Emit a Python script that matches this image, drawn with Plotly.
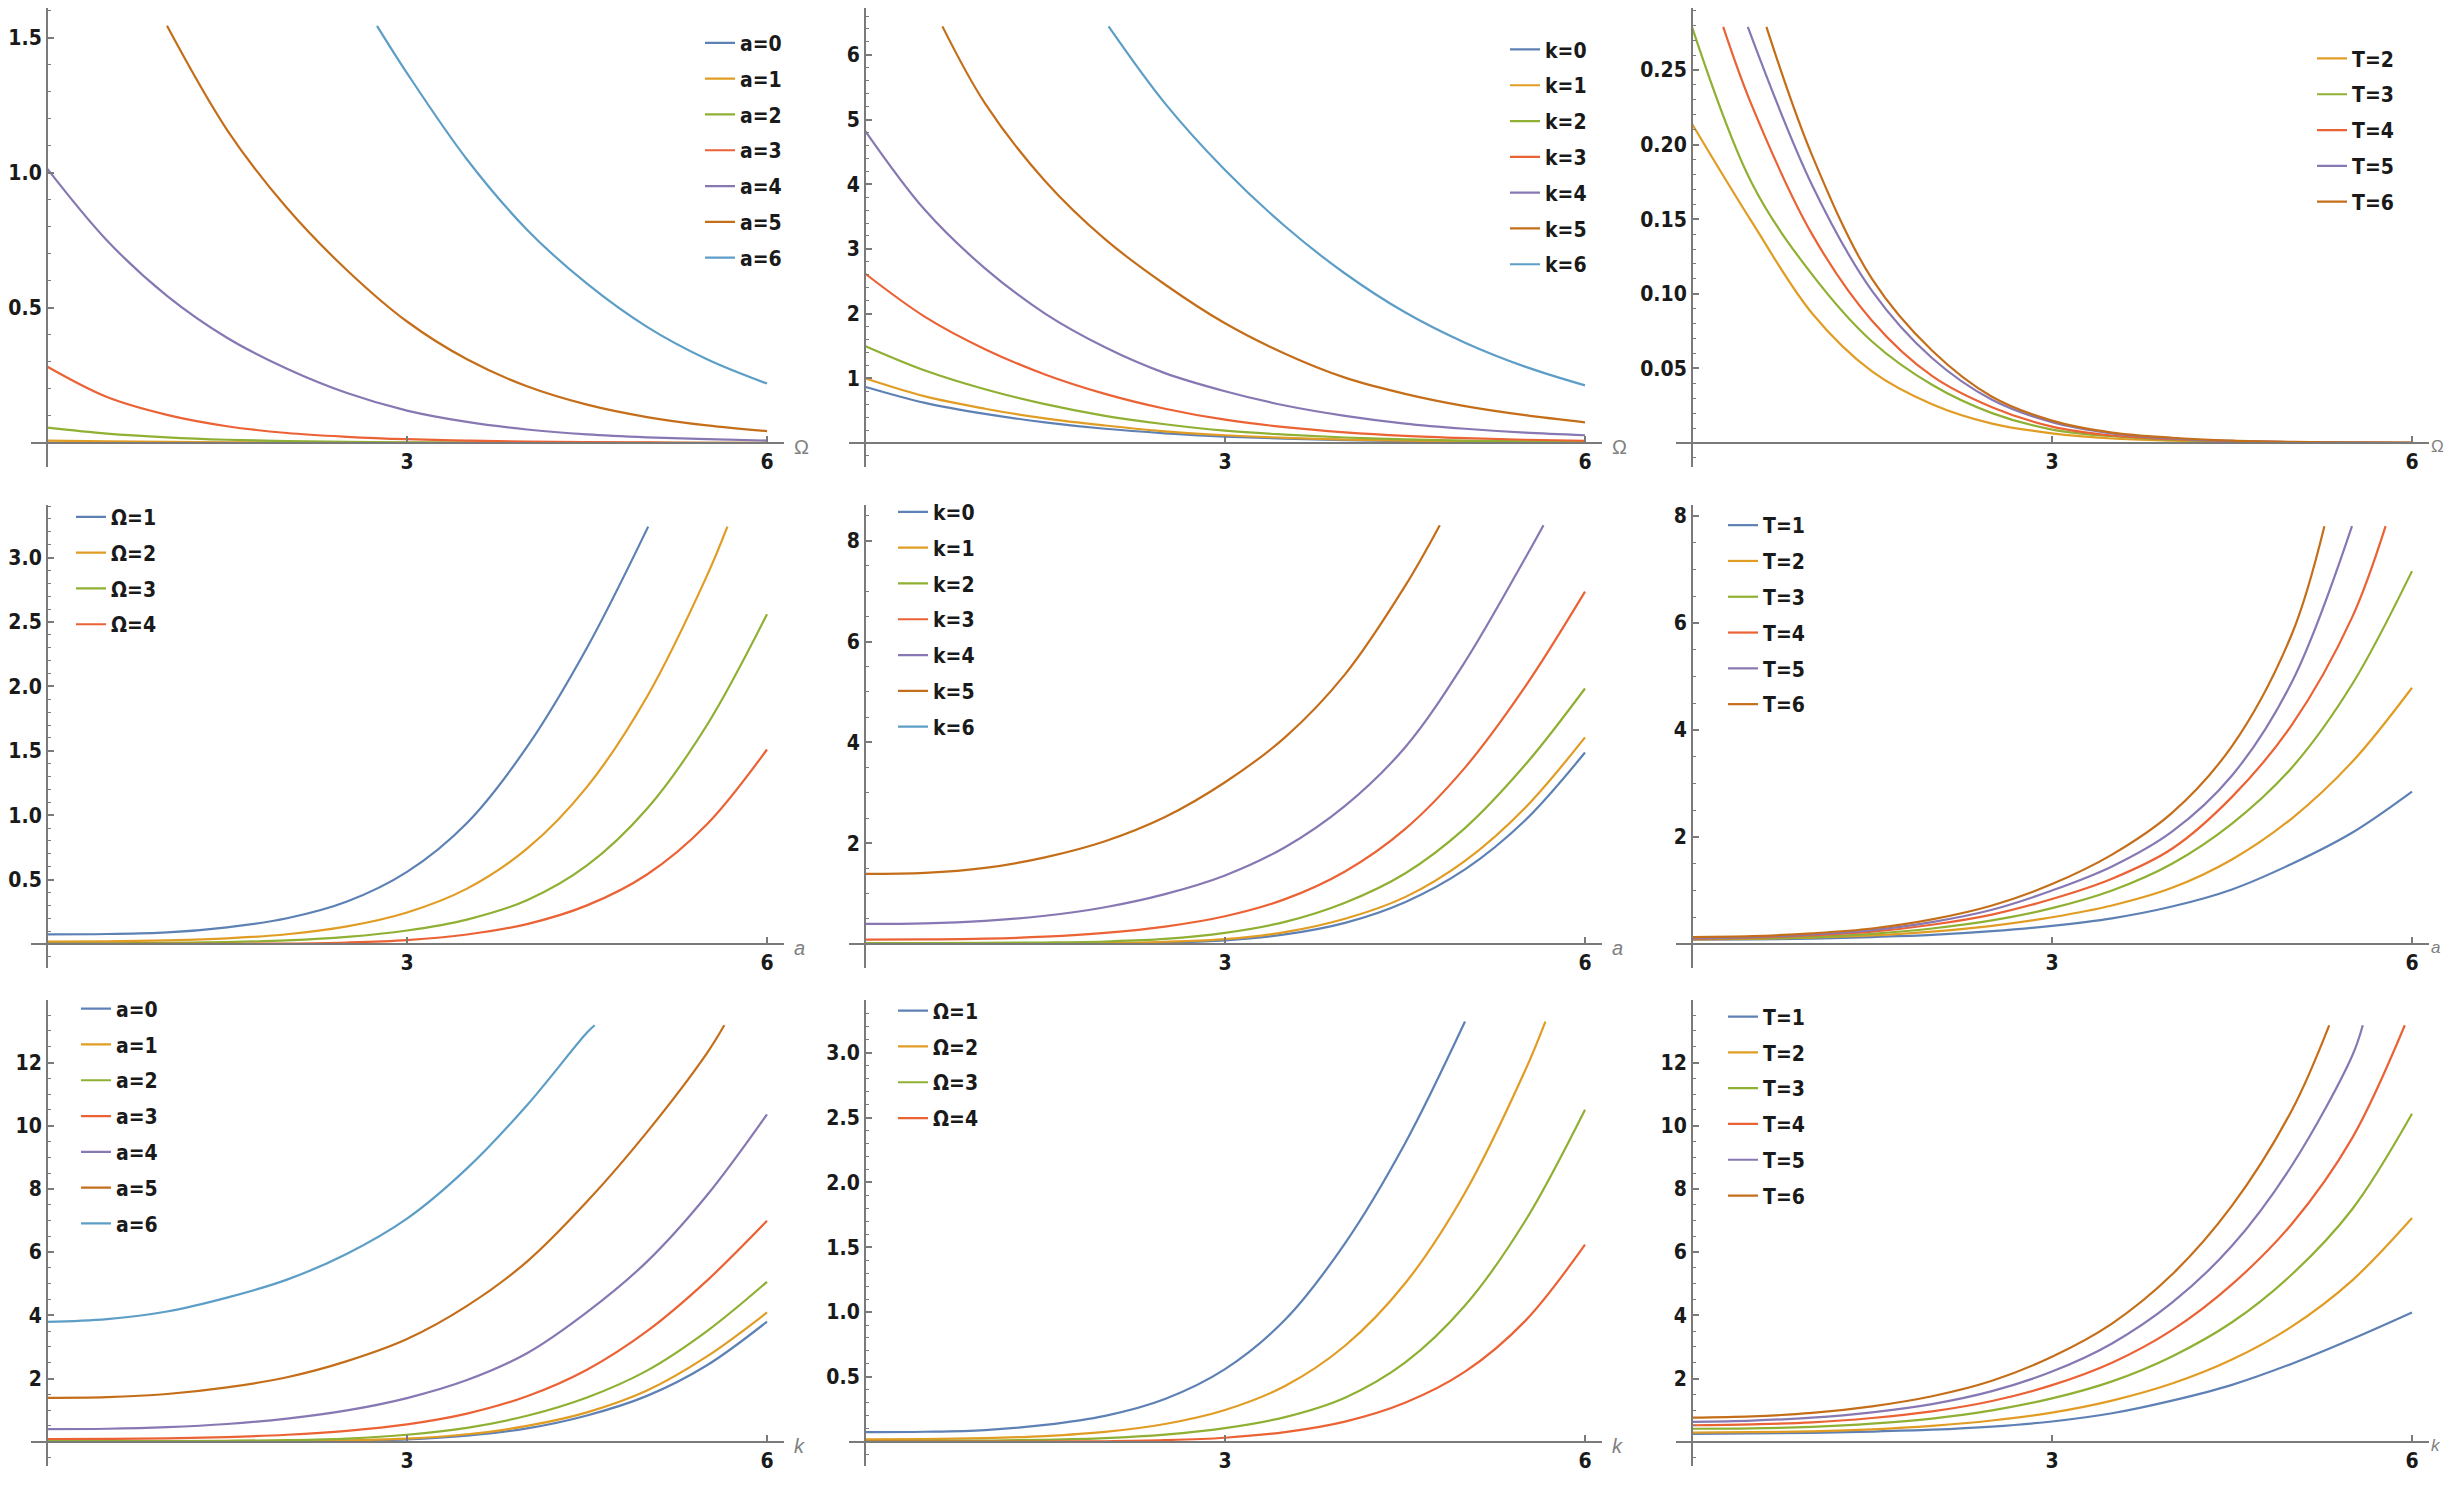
import plotly.graph_objects as go

# ---------------- data ----------------
X = [0, 0.5, 1, 1.5, 2, 2.5, 3, 3.5, 4, 4.5, 5, 5.5, 6]
COLORS = ["#5E81B5", "#E19C24", "#8FB032", "#EB6235", "#8778B3", "#C56E1A", "#5D9EC7"]

# Panel 1: vs Omega, a = 0..6
p1_labels = ["a=0", "a=1", "a=2", "a=3", "a=4", "a=5", "a=6"]
p1_a0 = [0.001, 0.0008, 0.0006, 0.0004, 0.0003, 0.0002, 0.0001, 0.0001, 0, 0, 0, 0, 0]
p1_a1 = [0.009, 0.006, 0.004, 0.0025, 0.0015, 0.001, 0.0006, 0.0004, 0.0002, 0.0001, 0.0001, 0, 0]
p1_a2 = [0.057, 0.035, 0.021, 0.012, 0.007, 0.004, 0.0025, 0.0015, 0.001, 0.0005, 0.0003, 0.0002, 0.0001]
p1_a3 = [0.283, 0.17, 0.104, 0.062, 0.037, 0.023, 0.014, 0.009, 0.005, 0.003, 0.002, 0.001, 0.0007]
p1_a4 = [1.017, 0.75, 0.545, 0.39, 0.275, 0.185, 0.12, 0.078, 0.05, 0.032, 0.021, 0.014, 0.009]
p1_a5_x = [1.0, 1.5, 2, 2.5, 3, 3.5, 4, 4.5, 5, 5.5, 6]
p1_a5 = [1.545, 1.16, 0.87, 0.64, 0.45, 0.31, 0.21, 0.142, 0.096, 0.065, 0.044]
p1_a6_x = [2.75, 3, 3.5, 4, 4.5, 5, 5.5, 6]
p1_a6 = [1.545, 1.37, 1.05, 0.79, 0.59, 0.43, 0.31, 0.22]

# Panel 2: vs Omega, k = 0..6
p2_labels = ["k=0", "k=1", "k=2", "k=3", "k=4", "k=5", "k=6"]
p2_k0 = [0.87, 0.62, 0.45, 0.32, 0.22, 0.15, 0.10, 0.067, 0.045, 0.03, 0.02, 0.013, 0.008]
p2_k1 = [1.0, 0.72, 0.53, 0.38, 0.27, 0.18, 0.12, 0.08, 0.053, 0.036, 0.024, 0.016, 0.011]
p2_k2 = [1.5, 1.12, 0.83, 0.6, 0.42, 0.29, 0.19, 0.13, 0.085, 0.057, 0.038, 0.025, 0.016]
p2_k3 = [2.62, 1.95, 1.45, 1.06, 0.76, 0.53, 0.36, 0.245, 0.165, 0.11, 0.075, 0.05, 0.035]
p2_k4 = [4.83, 3.6, 2.7, 2.0, 1.48, 1.08, 0.8, 0.58, 0.42, 0.3, 0.22, 0.16, 0.12]
p2_k5_x = [0.645, 1, 1.5, 2, 2.5, 3, 3.5, 4, 4.5, 5, 5.5, 6]
p2_k5 = [6.44, 5.25, 4.05, 3.15, 2.45, 1.85, 1.38, 1.01, 0.76, 0.57, 0.43, 0.32]
p2_k6_x = [2.03, 2.5, 3, 3.5, 4, 4.5, 5, 5.5, 6]
p2_k6 = [6.44, 5.25, 4.22, 3.35, 2.62, 2.02, 1.55, 1.18, 0.89]

# Panel 3: vs Omega, T = 2..6
p3_labels = ["T=2", "T=3", "T=4", "T=5", "T=6"]
p3_t2 = [0.214, 0.148, 0.087, 0.048, 0.026, 0.013, 0.0065, 0.003, 0.0015, 0.0007, 0.0003, 0.0001, 0.00005]
p3_t3 = [0.279, 0.174, 0.113, 0.068, 0.039, 0.02, 0.009, 0.0045, 0.002, 0.001, 0.0004, 0.0002, 0.0001]
p3_t4_x = [0.26, 0.5, 1, 1.5, 2, 2.5, 3, 3.5, 4, 4.5, 5, 5.5, 6]
p3_t4 = [0.279, 0.226, 0.14, 0.082, 0.045, 0.024, 0.011, 0.005, 0.0025, 0.0012, 0.0005, 0.0002, 0.0001]
p3_t5_x = [0.465, 1, 1.5, 2, 2.5, 3, 3.5, 4, 4.5, 5, 5.5, 6]
p3_t5 = [0.279, 0.173, 0.102, 0.057, 0.029, 0.014, 0.0065, 0.003, 0.0014, 0.0006, 0.0002, 0.0001]
p3_t6_x = [0.62, 1, 1.5, 2, 2.5, 3, 3.5, 4, 4.5, 5, 5.5, 6]
p3_t6 = [0.279, 0.193, 0.11, 0.062, 0.031, 0.015, 0.007, 0.0035, 0.0016, 0.0007, 0.0003, 0.0001]

# Panel 4: vs a, Omega = 1..4
p4_labels = ["Ω=1", "Ω=2", "Ω=3", "Ω=4"]
p4_o1_x = [0, 0.5, 1, 1.5, 2, 2.5, 3, 3.5, 4, 4.5, 5.01]
p4_o1 = [0.075, 0.078, 0.09, 0.13, 0.2, 0.33, 0.56, 0.94, 1.53, 2.3, 3.24]
p4_o2_x = [0, 0.5, 1, 1.5, 2, 2.5, 3, 3.5, 4, 4.5, 5, 5.5, 5.67]
p4_o2 = [0.018, 0.02, 0.028, 0.044, 0.076, 0.137, 0.245, 0.43, 0.74, 1.22, 1.92, 2.86, 3.24]
p4_o3 = [0.005, 0.006, 0.009, 0.015, 0.028, 0.055, 0.105, 0.19, 0.34, 0.61, 1.05, 1.7, 2.56]
p4_o4 = [0.001, 0.001, 0.001, 0.002, 0.004, 0.012, 0.031, 0.074, 0.155, 0.3, 0.54, 0.93, 1.51]

# Panel 5: vs a, k = 0..6 (k=6 has no visible curve)
p5_labels = ["k=0", "k=1", "k=2", "k=3", "k=4", "k=5", "k=6"]
p5_k0 = [0.002, 0.002, 0.002, 0.003, 0.01, 0.028, 0.07, 0.19, 0.42, 0.83, 1.48, 2.45, 3.80]
p5_k1 = [0.005, 0.005, 0.006, 0.008, 0.018, 0.045, 0.095, 0.235, 0.5, 0.93, 1.65, 2.7, 4.10]
p5_k2 = [0.02, 0.02, 0.022, 0.03, 0.05, 0.1, 0.22, 0.44, 0.82, 1.4, 2.3, 3.55, 5.07]
p5_k3 = [0.086, 0.09, 0.105, 0.145, 0.22, 0.345, 0.55, 0.89, 1.44, 2.28, 3.5, 5.1, 6.99]
p5_k4_x = [0, 0.5, 1, 1.5, 2, 2.5, 3, 3.5, 4, 4.5, 5, 5.5, 5.654]
p5_k4 = [0.40, 0.41, 0.46, 0.56, 0.73, 0.99, 1.36, 1.92, 2.74, 3.9, 5.6, 7.65, 8.31]
p5_k5_x = [0, 0.5, 1, 1.5, 2, 2.5, 3, 3.5, 4, 4.5, 4.79]
p5_k5 = [1.39, 1.41, 1.51, 1.72, 2.04, 2.52, 3.21, 4.1, 5.35, 7.1, 8.31]
p5_k6_x = [None]
p5_k6 = [None]

# Panel 6: vs a, T = 1..6
p6_labels = ["T=1", "T=2", "T=3", "T=4", "T=5", "T=6"]
p6_t1 = [0.08, 0.085, 0.1, 0.13, 0.17, 0.24, 0.34, 0.48, 0.7, 1.02, 1.5, 2.08, 2.85]
p6_t2 = [0.085, 0.095, 0.12, 0.16, 0.23, 0.34, 0.5, 0.72, 1.05, 1.58, 2.35, 3.4, 4.79]
p6_t3 = [0.09, 0.105, 0.13, 0.19, 0.29, 0.44, 0.67, 1.0, 1.5, 2.25, 3.3, 4.85, 6.97]
p6_t4_x = [0, 0.5, 1, 1.5, 2, 2.5, 3, 3.5, 4, 4.5, 5, 5.5, 5.78]
p6_t4 = [0.1, 0.12, 0.16, 0.23, 0.36, 0.55, 0.84, 1.22, 1.78, 2.75, 4.1, 6.1, 7.81]
p6_t5_x = [0, 0.5, 1, 1.5, 2, 2.5, 3, 3.5, 4, 4.5, 5, 5.5]
p6_t5 = [0.11, 0.13, 0.18, 0.26, 0.41, 0.64, 1.0, 1.45, 2.1, 3.15, 4.9, 7.81]
p6_t6_x = [0, 0.5, 1, 1.5, 2, 2.5, 3, 3.5, 4, 4.5, 5, 5.27]
p6_t6 = [0.13, 0.145, 0.2, 0.29, 0.46, 0.72, 1.12, 1.67, 2.45, 3.7, 5.8, 7.81]

# Panel 7: vs k, a = 0..6
p7_labels = ["a=0", "a=1", "a=2", "a=3", "a=4", "a=5", "a=6"]
p7_a0 = [0.002, 0.002, 0.002, 0.003, 0.01, 0.028, 0.07, 0.19, 0.42, 0.83, 1.45, 2.42, 3.80]
p7_a1 = [0.005, 0.005, 0.006, 0.008, 0.018, 0.045, 0.095, 0.235, 0.5, 0.93, 1.62, 2.7, 4.09]
p7_a2 = [0.02, 0.02, 0.022, 0.03, 0.05, 0.1, 0.22, 0.44, 0.82, 1.4, 2.25, 3.5, 5.06]
p7_a3 = [0.086, 0.09, 0.105, 0.145, 0.22, 0.345, 0.55, 0.89, 1.44, 2.28, 3.5, 5.1, 6.99]
p7_a4 = [0.40, 0.41, 0.46, 0.56, 0.73, 0.99, 1.38, 1.95, 2.8, 4.1, 5.7, 7.8, 10.36]
p7_a5_x = [0, 0.5, 1, 1.5, 2, 2.5, 3, 3.5, 4, 4.5, 5, 5.5, 5.644]
p7_a5 = [1.39, 1.41, 1.51, 1.72, 2.04, 2.55, 3.25, 4.3, 5.7, 7.6, 9.8, 12.3, 13.18]
p7_a6_x = [0, 0.5, 1, 1.5, 2, 2.5, 3, 3.5, 4, 4.5, 4.564]
p7_a6 = [3.79, 3.88, 4.12, 4.56, 5.13, 5.95, 7.06, 8.65, 10.65, 12.95, 13.18]

# Panel 8: vs k, Omega = 1..4
p8_labels = ["Ω=1", "Ω=2", "Ω=3", "Ω=4"]
p8_o1_x = [0, 0.5, 1, 1.5, 2, 2.5, 3, 3.5, 4, 4.5, 5.0]
p8_o1 = [0.074, 0.077, 0.09, 0.13, 0.2, 0.33, 0.56, 0.94, 1.53, 2.3, 3.24]
p8_o2_x = [0, 0.5, 1, 1.5, 2, 2.5, 3, 3.5, 4, 4.5, 5, 5.5, 5.67]
p8_o2 = [0.018, 0.02, 0.028, 0.044, 0.076, 0.137, 0.245, 0.43, 0.74, 1.22, 1.92, 2.86, 3.24]
p8_o3 = [0.005, 0.006, 0.009, 0.015, 0.028, 0.055, 0.105, 0.19, 0.34, 0.61, 1.05, 1.7, 2.56]
p8_o4 = [0.001, 0.001, 0.001, 0.002, 0.004, 0.012, 0.031, 0.074, 0.155, 0.3, 0.54, 0.93, 1.52]

# Panel 9: vs k, T = 1..6
p9_labels = ["T=1", "T=2", "T=3", "T=4", "T=5", "T=6"]
p9_t1 = [0.25, 0.26, 0.28, 0.32, 0.38, 0.48, 0.64, 0.9, 1.3, 1.8, 2.47, 3.25, 4.09]
p9_t2 = [0.29, 0.3, 0.33, 0.39, 0.5, 0.67, 0.92, 1.3, 1.84, 2.6, 3.65, 5.1, 7.08]
p9_t3 = [0.41, 0.42, 0.47, 0.57, 0.73, 0.99, 1.37, 1.91, 2.7, 3.78, 5.3, 7.35, 10.38]
p9_t4_x = [0, 0.5, 1, 1.5, 2, 2.5, 3, 3.5, 4, 4.5, 5, 5.5, 5.94]
p9_t4 = [0.52, 0.55, 0.61, 0.75, 0.96, 1.29, 1.79, 2.5, 3.53, 4.98, 6.9, 9.6, 13.18]
p9_t5_x = [0, 0.5, 1, 1.5, 2, 2.5, 3, 3.5, 4, 4.5, 5, 5.5, 5.59]
p9_t5 = [0.63, 0.67, 0.76, 0.93, 1.19, 1.6, 2.22, 3.11, 4.4, 6.2, 8.75, 12.2, 13.18]
p9_t6_x = [0, 0.5, 1, 1.5, 2, 2.5, 3, 3.5, 4, 4.5, 5, 5.31]
p9_t6 = [0.76, 0.8, 0.91, 1.12, 1.44, 1.93, 2.69, 3.74, 5.29, 7.47, 10.5, 13.18]

# tick labels
x_tickvals = [3, 6]
x_ticktext = ["3", "6"]
p1_yticks = [0.5, 1.0, 1.5]
p1_ytext = ["0.5", "1.0", "1.5"]
p2_yticks = [1, 2, 3, 4, 5, 6]
p3_yticks = [0.05, 0.10, 0.15, 0.20, 0.25]
p3_ytext = ["0.05", "0.10", "0.15", "0.20", "0.25"]
p4_yticks = [0.5, 1.0, 1.5, 2.0, 2.5, 3.0]
p4_ytext = ["0.5", "1.0", "1.5", "2.0", "2.5", "3.0"]
p56_yticks = [2, 4, 6, 8]
p79_yticks = [2, 4, 6, 8, 10, 12]

# ---------------- layout constants ----------------
# the page body has an 8px margin, so the figure is 16px smaller than the window
OFF = 8
PAGE_W, PAGE_H = 2452, 1506
W, H = PAGE_W - 2 * OFF, PAGE_H - 2 * OFF
XRANGE = [-0.13, 6.14]
COL_PX = [(31.4, 783.8), (849.4, 1601.8), (1676.4, 2428.8)]      # page pixels
ROW_PX = [(8, 467), (505, 968), (1000, 1466)]                    # page pixels
FONT = "DejaVu Sans Condensed, Liberation Sans Narrow, Roboto Condensed, Arial Narrow, Liberation Sans, sans-serif"
AXCOL = "#7a7a7a"

panels = [
    dict(series=[(X, p1_a0), (X, p1_a1), (X, p1_a2), (X, p1_a3), (X, p1_a4), (p1_a5_x, p1_a5), (p1_a6_x, p1_a6)],
         labels=p1_labels, cols=[0, 1, 2, 3, 4, 5, 6], yr=[-0.0889, 1.611],
         yt=p1_yticks, ytt=p1_ytext, minor=0.1, xl="Ω", leg=(708, 42.7)),
    dict(series=[(X, p2_k0), (X, p2_k1), (X, p2_k2), (X, p2_k3), (X, p2_k4), (p2_k5_x, p2_k5), (p2_k6_x, p2_k6)],
         labels=p2_labels, cols=[0, 1, 2, 3, 4, 5, 6], yr=[-0.371, 6.724],
         yt=p2_yticks, ytt=[str(v) for v in p2_yticks], minor=0.2, xl="Ω", leg=(1513, 49.3)),
    dict(series=[(X, p3_t2), (X, p3_t3), (p3_t4_x, p3_t4), (p3_t5_x, p3_t5), (p3_t6_x, p3_t6)],
         labels=p3_labels, cols=[1, 2, 3, 4, 5], yr=[-0.0161, 0.2916],
         yt=p3_yticks, ytt=p3_ytext, minor=0.01, xl="Ω", leg=(2320, 58.3)),
    dict(series=[(p4_o1_x, p4_o1), (p4_o2_x, p4_o2), (X, p4_o3), (X, p4_o4)],
         labels=p4_labels, cols=[0, 1, 2, 3], yr=[-0.186, 3.408],
         yt=p4_yticks, ytt=p4_ytext, minor=0.1, xl="<i>a</i>", leg=(79, 516.7)),
    dict(series=[(X, p5_k0), (X, p5_k1), (X, p5_k2), (X, p5_k3), (p5_k4_x, p5_k4), (p5_k5_x, p5_k5), (p5_k6_x, p5_k6)],
         labels=p5_labels, cols=[0, 1, 2, 3, 4, 5, 6], yr=[-0.476, 8.71],
         yt=p56_yticks, ytt=[str(v) for v in p56_yticks], minor=0.5, xl="<i>a</i>", leg=(901, 511.7)),
    dict(series=[(X, p6_t1), (X, p6_t2), (X, p6_t3), (p6_t4_x, p6_t4), (p6_t5_x, p6_t5), (p6_t6_x, p6_t6)],
         labels=p6_labels, cols=[0, 1, 2, 3, 4, 5], yr=[-0.449, 8.206],
         yt=p56_yticks, ytt=[str(v) for v in p56_yticks], minor=0.5, xl="<i>a</i>", leg=(1731, 525)),
    dict(series=[(X, p7_a0), (X, p7_a1), (X, p7_a2), (X, p7_a3), (X, p7_a4), (p7_a5_x, p7_a5), (p7_a6_x, p7_a6)],
         labels=p7_labels, cols=[0, 1, 2, 3, 4, 5, 6], yr=[-0.769, 13.98],
         yt=p79_yticks, ytt=[str(v) for v in p79_yticks], minor=0.5, xl="<i>k</i>", leg=(84, 1008.5)),
    dict(series=[(p8_o1_x, p8_o1), (p8_o2_x, p8_o2), (X, p8_o3), (X, p8_o4)],
         labels=p8_labels, cols=[0, 1, 2, 3], yr=[-0.187, 3.406],
         yt=p4_yticks, ytt=p4_ytext, minor=0.1, xl="<i>k</i>", leg=(901, 1010.5)),
    dict(series=[(X, p9_t1), (X, p9_t2), (X, p9_t3), (p9_t4_x, p9_t4), (p9_t5_x, p9_t5), (p9_t6_x, p9_t6)],
         labels=p9_labels, cols=[0, 1, 2, 3, 4, 5], yr=[-0.769, 13.98],
         yt=p79_yticks, ytt=[str(v) for v in p79_yticks], minor=0.5, xl="<i>k</i>", leg=(1731, 1016.4)),
]


def fx(px):
    return (px - OFF) / W


def fy(py):
    return 1 - (py - OFF) / H


fig = go.Figure()
layout = dict(
    width=W, height=H, margin=dict(l=0, r=0, t=0, b=0, autoexpand=False),
    paper_bgcolor="white", plot_bgcolor="white", showlegend=True,
    font=dict(family=FONT, size=20, color="#1a1a1a"),
)
annotations = []

for i, p in enumerate(panels):
    r, c = divmod(i, 3)
    n = i + 1
    xa = "x" if n == 1 else f"x{n}"
    ya = "y" if n == 1 else f"y{n}"
    legname = "legend" if n == 1 else f"legend{n}"
    x0p, x1p = COL_PX[c]
    y0p, y1p = ROW_PX[r]
    xdom = [fx(x0p), fx(x1p)]
    ydom = [fy(y1p), fy(y0p)]
    yr = p["yr"]
    # where the axes cross (origin) in paper fractions
    xpos = xdom[0] + (0 - XRANGE[0]) / (XRANGE[1] - XRANGE[0]) * (xdom[1] - xdom[0])
    ypos = ydom[0] + (0 - yr[0]) / (yr[1] - yr[0]) * (ydom[1] - ydom[0])

    for j, ((xs, ys), lab, ci) in enumerate(zip(p["series"], p["labels"], p["cols"])):
        fig.add_trace(go.Scatter(
            x=xs, y=ys, mode="lines", name=lab,
            line=dict(color=COLORS[ci], width=2.2, shape="spline", smoothing=1.0),
            xaxis=xa, yaxis=ya, legend=legname, legendgroup=f"g{n}_{j}",
            hoverinfo="skip",
        ))

    layout["xaxis" if n == 1 else f"xaxis{n}"] = dict(
        domain=xdom, range=XRANGE, anchor="free", position=ypos, automargin=False,
        showline=True, linecolor=AXCOL, linewidth=2,
        showgrid=False, zeroline=False,
        tickmode="array", tickvals=x_tickvals, ticktext=x_ticktext,
        ticks="inside", ticklen=6, tickwidth=1.5, tickcolor=AXCOL,
        tickfont=dict(family=FONT, size=21, color="#1a1a1a", weight="bold"),
        fixedrange=True,
    )
    layout["yaxis" if n == 1 else f"yaxis{n}"] = dict(
        domain=ydom, range=yr, anchor="free", position=xpos, automargin=False,
        showline=True, linecolor=AXCOL, linewidth=2,
        showgrid=False, zeroline=False,
        tickmode="array", tickvals=p["yt"], ticktext=p["ytt"],
        ticks="inside", ticklen=6, tickwidth=1.5, tickcolor=AXCOL,
        tickfont=dict(family=FONT, size=21, color="#1a1a1a", weight="bold"),
        minor=dict(tickmode="linear", tick0=0, dtick=p["minor"], ticks="inside",
                   ticklen=3, tickwidth=1, tickcolor=AXCOL),
        fixedrange=True,
    )
    lx, ly = p["leg"]
    layout[legname] = dict(
        x=fx(lx - 8), y=fy(ly - 20), xanchor="left", yanchor="top",
        bgcolor="rgba(0,0,0,0)", borderwidth=0,
        font=dict(family=FONT, size=21, color="#1a1a1a", weight="bold"),
        traceorder="grouped", tracegroupgap=5.5, itemwidth=30,
    )
    annotations.append(dict(
        text=p["xl"], xref=f"{xa} domain", x=1, xshift=(8 if c < 2 else 0), xanchor="left",
        yref=ya, y=0, yanchor="middle", yshift=-4, showarrow=False,
        font=dict(family="Liberation Sans, DejaVu Sans, sans-serif",
                  size=(20 if c < 2 else 17), color="#808080"),
    ))

layout["annotations"] = annotations
fig.update_layout(**layout)
fig.write_html("out.html")
